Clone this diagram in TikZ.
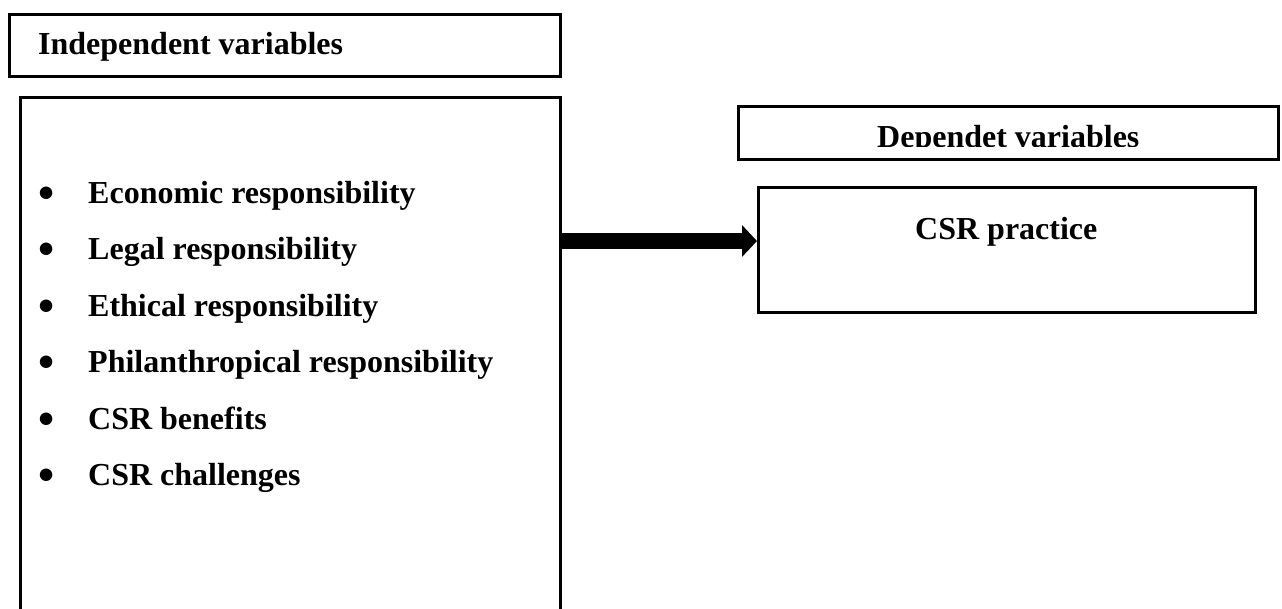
\documentclass[tikz,border=0pt]{standalone}
\usepackage{fontspec}
\setmainfont{Liberation Serif}
\usetikzlibrary{arrows.meta}
\begin{document}
\begin{tikzpicture}[x=1pt,y=-1pt,
  frame/.style={draw=black,line width=2.8pt,fill=none,inner sep=0pt,anchor=north west},
  lbl/.style={inner sep=0pt,anchor=base west,font=\fontsize{32}{38}\selectfont\bfseries},
  bul/.style={inner sep=0pt,anchor=base,font=\fontsize{46}{50}\selectfont\bfseries},
  bigarrow/.style={line width=16pt,-{Triangle[length=15pt,width=31pt]}}]
\useasboundingbox (0,0) rectangle (1282,608);
\clip (0,0) rectangle (1282,608);
% Independent header
\node[frame,minimum width=551pt,minimum height=62pt] (hdrA) at (8,13) {};
\node[lbl] (hdrAtxt) at (38,54) {Independent variables};
% big box (extends beyond bottom)
\node[frame,minimum width=540pt,minimum height=540pt] (big) at (19,96) {};
% list
\foreach \i/\t/\yy in {1/Economic responsibility/203,2/Legal responsibility/259.5,3/Ethical responsibility/316,4/Philanthropical responsibility/372.5,5/CSR benefits/429,6/CSR challenges/485.5}{
  \node[bul] (b\i) at (47,\yy+5) {•};
  \node[lbl] (t\i) at (88,\yy) {\t};
}
% Dependent header
\node[frame,minimum width=540pt,minimum height=53pt] (hdrB) at (737,105) {};
\begin{scope}
  \clip (737,100) rectangle (1277,146);
  \node[lbl] (hdrBtxt) at (877,147) {Dependet variables};
\end{scope}
% CSR practice box
\node[frame,minimum width=497pt,minimum height=125pt] (csr) at (757,186) {};
\node[lbl] (csrtxt) at (915,239) {CSR practice};
% arrow
\coordinate (aS) at (big.east |- 0,241);
\coordinate (aE) at (csr.west |- 0,241);
\draw[bigarrow] (aS) -- (aE);
\end{tikzpicture}
\end{document}
